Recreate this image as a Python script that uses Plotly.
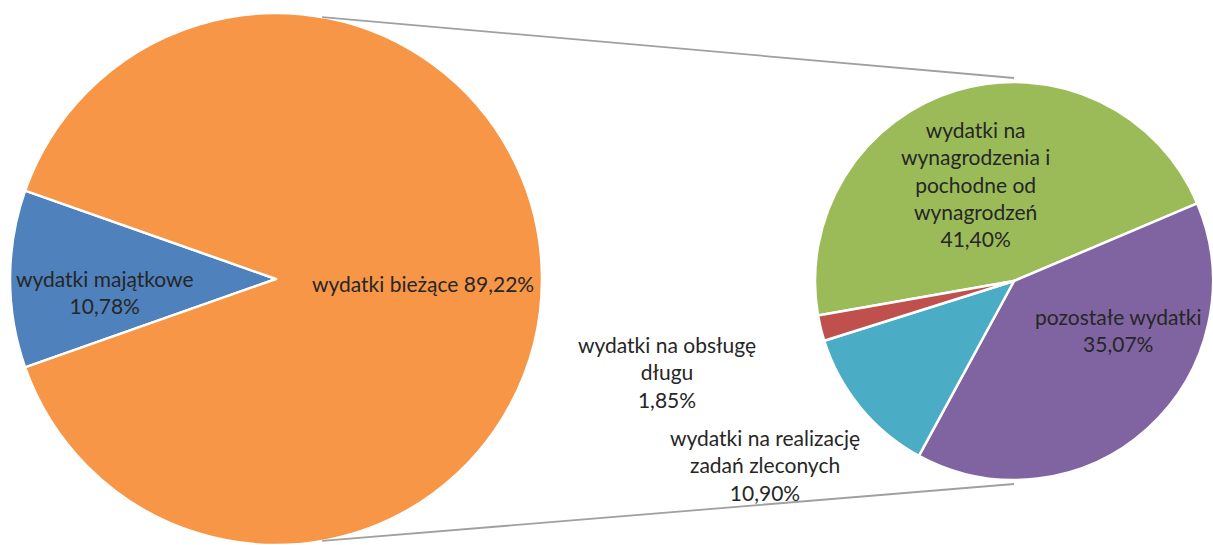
import math
import plotly.graph_objects as go

# ---- data ----
main_labels = ["wydatki majątkowe", "wydatki bieżące"]
main_values = [10.78, 89.22]
main_colors = ["#4F81BD", "#F79646"]

sub_labels = ["wydatki na wynagrodzenia i pochodne od wynagrodzeń",
              "pozostałe wydatki",
              "wydatki na realizację zadań zleconych",
              "wydatki na obsługę długu"]
sub_values = [41.40, 35.07, 10.90, 1.85]
sub_colors = ["#9BBB59", "#8064A2", "#4BACC6", "#C0504D"]

def pct(v):
    return f"{v:.2f}".replace(".", ",") + "%"

W, H = 1213, 545

# geometry (pixels)
mcx, mcy, mr = 276, 279, 266
scx, scy, sr = 1014, 281, 199

def dom(cx, cy, r):
    return dict(x=[max(0, (cx - r) / W), min(1, (cx + r) / W)],
                y=[max(0, (H - cy - r) / H), min(1, (H - cy + r) / H)])

blue_span = main_values[0] / sum(main_values) * 360
main_rot = 270 - blue_span / 2

fig = go.Figure()
fig.add_trace(go.Pie(
    labels=main_labels, values=main_values, sort=False, direction="clockwise",
    rotation=main_rot, marker=dict(colors=main_colors, line=dict(color="white", width=2.5)),
    textinfo="none", hoverinfo="label+value", showlegend=False,
    domain=dom(mcx, mcy, mr)))
fig.add_trace(go.Pie(
    labels=sub_labels, values=sub_values, sort=False, direction="clockwise",
    rotation=260, marker=dict(colors=sub_colors, line=dict(color="white", width=2.5)),
    textinfo="none", hoverinfo="label+value", showlegend=False,
    domain=dom(scx, scy, sr)))

# connector lines: from main pie edge to top/bottom of the sub pie
def pt(cx, cy, r, clock_deg):
    a = math.radians(clock_deg)
    return cx + r * math.sin(a), cy - r * math.cos(a)

shapes = []
for a_main, a_sub in [(10, 0), (170, 180)]:
    x0, y0 = pt(mcx, mcy, mr, a_main)
    x1, y1 = pt(scx, scy, sr + 4, a_sub)
    shapes.append(dict(type="line", xref="paper", yref="paper",
                       x0=x0 / W, y0=1 - y0 / H, x1=x1 / W, y1=1 - y1 / H,
                       line=dict(color="#A0A0A0", width=1.8)))

FONT = dict(family="Lato, Carlito, sans-serif", size=21, color="#262626")

label_specs = [
    (f"{main_labels[0]}<br>{pct(main_values[0])}", 105, 292),
    (f"{main_labels[1]} {pct(main_values[1])}", 423, 283),
    (f"wydatki na<br>wynagrodzenia i<br>pochodne od<br>wynagrodzeń<br>{pct(sub_values[0])}", 975, 184),
    (f"pozostałe wydatki<br>{pct(sub_values[1])}", 1118, 330),
    (f"wydatki na realizację<br>zadań zleconych<br>{pct(sub_values[2])}", 765, 465),
    (f"wydatki na obsługę<br>długu<br>{pct(sub_values[3])}", 667, 372),
]
annotations = [dict(text=t, x=x / W, y=1 - y / H, xref="paper", yref="paper",
                    showarrow=False, align="center", xanchor="center", yanchor="middle",
                    font=FONT)
               for t, x, y in label_specs]

fig.update_layout(width=W, height=H, margin=dict(l=0, r=0, t=0, b=0),
                  paper_bgcolor="white", plot_bgcolor="white",
                  shapes=shapes, annotations=annotations)

fig.write_html("out.html", config={"displayModeBar": False},
               post_script="document.body.style.margin='0';document.body.style.overflow='hidden';")
